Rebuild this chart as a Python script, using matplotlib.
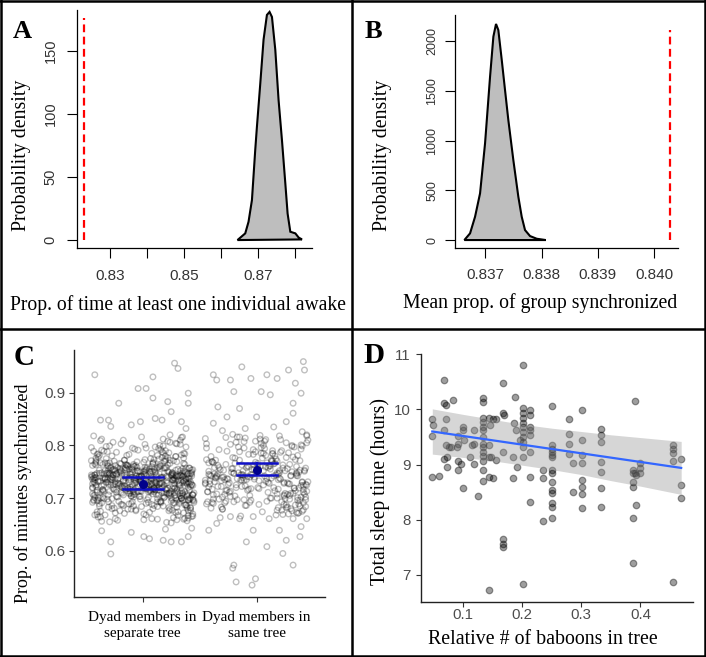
import matplotlib
matplotlib.use('Agg')
import matplotlib.pyplot as plt
from matplotlib.lines import Line2D

SERIF = 'Liberation Serif'
SANS = 'Liberation Sans'

# ---------------------------------------------------------------
# DATA
# ---------------------------------------------------------------

# A: posterior density, prop. of time at least one individual awake
dens_a_x = [0.86447, 0.86656, 0.86745, 0.86837, 0.86926, 0.86972, 0.87062, 0.87151,
            0.87242, 0.87313, 0.87378, 0.87468, 0.87557, 0.87649, 0.87739, 0.87801,
            0.87874, 0.88010, 0.88099, 0.88190]
dens_a_y = [0, 5.3, 14.5, 31.7, 71.4, 90, 124, 159, 178.6, 181, 177, 151, 111, 79,
            45, 21, 6.6, 5.3, 2, 0.5]
obs_a = 0.8230
obs_a_top = 176
xticks_a = [0.83, 0.84, 0.85, 0.86, 0.87, 0.88]
xlabels_a = ['0.83', '', '0.85', '', '0.87', '']
yticks_a = [0, 50, 100, 150]

# B: posterior density, mean prop. of group synchronized
dens_b_x = [0.836627, 0.836728, 0.836817, 0.836906, 0.836995, 0.837084, 0.837143,
            0.837190, 0.837231, 0.837292, 0.837350, 0.837409, 0.837498, 0.837587,
            0.837647, 0.837706, 0.837795, 0.837914, 0.838074]
dens_b_y = [0, 67, 234, 469, 972, 1642, 2044, 2171, 2110, 1809, 1508, 1206, 804, 435,
            234, 100, 40, 13, 0]
obs_b = 0.84028
obs_b_top = 2110
xticks_b = [0.837, 0.838, 0.839, 0.840]
yticks_b = [0, 500, 1000, 1500, 2000]

# C: dyad synchrony, jitter offsets (hundredths of a category) and values (thousandths)
sep_dx = [-12, 33, -41, 7, 25, -30, 41, -3, 18, -22, 38, -37, 11, -8, 29, -44, 3, 21, -17, 44,
          -26, 14, 36, -6, -39, 23, 0, -33, 9, 31, -15, 40, -28, 17, -1, 35, -42, 6, 27, -19,
          42, -10, 20, -35, 4, 30, -24, 12, -43, 37, -5, 16, -31, 26, -14, 39, -20, 1, 34, -38,
          8, -27, 43, -16, 24, -2, 32, -40, 15, -9, 28, -34, 5, 45, -21, 10, -29, 19, -45, 36,
          -7, 22, -36, 40, -13, 2, 27, -25, 38, -4, 13, -41, 31, -18, 6, 44, -32, 17, -11, 25,
          34, -23, 9, -44, 29, -15, 21, -37, 3, 41, -8, 26, -30, 14, -2, 37, -26, 11, -40, 19,
          -33, 4, 30, -19, 43, -6, 16, -28, 24, -42, 35, -12, 7, -35, 22, -1, 39, -24, 12, -16,
          28, -39, 15, -3, 33, -29, 6, 42, -20, 18, -10, 38, -43, 1, 26, -34, 10, -7, 44, -22,
          -18, 37, -9, 23, -36, 12, 40, -14, 3, -45, 29, -27, 17, 8, -38, 34, -4, 21, -31, 2,
          16, -42, 27, -11, 39, -25, 5, 31, -35, 20, -1, -19, 43, -30, 11, -8, 36, -44, 24, -13,
          -37, 19, -5, 41, -23, 32, -16, 8, 25, -40, 14, -9, 35, -28, 3, 44, -21, 13, -34, 30,
          10, -31, 38, -17, 1, 28, -43, 22, -6, 33, -26, 15, -39, 40, -12, 7, -24, 36, -3, -41,
          21, -36, 4, 39, -14, 27, -43, 10, -25, 33, -2, 44, -18, 6, -31, 24, -9, 41, -38, 15,
          -4, 30, -22, 13, -41, 37, 1, -29, 19, -12, 42, -35, 8, 26, -20, 35, -45, 11, -7, 31,
          40, -17, 25, -33, 9, -6, 34, -27, 2, 43, -39, 17, -11, 29, -23, 5, 38, -30, 20, -1,
          -28, 12, 45, -9, 22, -40, 7, 31, -15, 36, -3, -24, 18, -42, 28, -13, 3, 40, -34, 24,
          14, -44, 32, -5, 38, -19, 11, -32, 26, -10, 20, 42, -37, 1, 33, -21, 16, -8, 37, -27,
          -11, 23, -39, 35, -1, 17, -26, 44, -16, 8, -33, 29, 4, -43, 12, 39, -6, -30, 21, 43,
          32, -8, 18, -42, 27, -20, 1, 37, -12, 24, -29, 6, 41, -36, 15, -3, 30, -17, 9, -40,
          -35, 42, -14, 10, -24, 33, -7, 21, 44, -31, 3, -18, 26, -2, 36, -41, 13, -27, 38, 5,
          7, -25, 37, -38, 19, -9, 29, -44, 12, 2, -21, 40, -13, 34, -34, 23, -4, 31, -19, 16,
          -20, 35, -3, 26, -32, 14, 43, -11, -39, 20, 9, -26, 39, -15, 4, 30, -43, 18, -8, 27,
          44, -13, 22, -27, 6, -37, 34, -1, 28, -22, 15, -44, 11, 36, -10, -30, 25, 2, -41, 19,
          -6, 28, -41, 16, 41, -23, 8, -34, 33, -16, -42, 23, 1, -28, 40, -12, 17, -37, 29, 10,
          25, -30, 11, -45, 34, 3, -18, 27, -7, 39, -35, 14, -24, 42, -2, 21, -39, 7, 33, -15,
          -42, 16, -10, 30, -26, 38, -5, 13, -33, 24, 45, -19, 5, -37, 19, -8, 35, -23, 1, 41,
          3, -22, 41, -31, 10, -14, 26, -40, 36, -4, 17, -29, 32, -9, -44, 28, -17, 12, -36, 22,
          -15, 37, -33, 8, 29, -43, 20, -6, 14, 43, -27, 4, -20, 35, -11, 26, -40, 9, -1, -32,
          36, -2, 15, -28, 42, -12, 5, -36, 23, -19, 32, -42, 10, -24, 39, -6, 20, -31, 44, -9,
          -23, 9, -44, 27, -16, 33, -38, 18, -1, 30, -29, 13, -42, 25, -7, 40, -13, 3, -26, 35,
          -42, -4, 3, 9, 28, 31, 40, 40, -21, 9, 22, 25, 34, -37, -30, -2, 11, 17, -10, -28, 38,
          -28, -28, 6, 18, 25, 34, 40, 1, -36, 20, -10, 43]
sep_y = [731, 694, 768, 712, 745, 683, 757, 721, 799, 702, 736, 664, 748, 715, 779, 727, 690, 741, 810, 706,
         725, 759, 672, 738, 701, 786, 719, 752, 680, 733, 764, 697, 743, 710, 816, 729, 668, 755, 722, 688,
         747, 704, 771, 716, 739, 659, 762, 728, 695, 750, 713, 792, 735, 677, 744, 708, 766, 723, 700, 781,
         737, 686, 753, 718, 806, 698, 742, 674, 760, 726, 711, 789, 733, 692, 749, 719, 655, 770, 740, 705,
         728, 763, 691, 746, 714, 802, 734, 681, 757, 722, 699, 776, 741, 709, 751, 666, 730, 788, 717, 694,
         744, 703, 765, 720, 673, 739, 758, 712, 795, 727, 685, 748, 706, 774, 732, 662, 754, 715, 783, 724,
         736, 697, 769, 711, 742, 678, 761, 725, 820, 701, 747, 689, 738, 716, 777, 729, 657, 752, 707, 743,
         719, 784, 693, 735, 710, 767, 726, 682, 756, 740, 704, 797, 731, 670, 745, 713, 773, 734, 696, 758,
         723, 687, 749, 709, 812, 737, 676, 762, 718, 744, 700, 780, 728, 661, 753, 714, 791, 733, 698, 746,
         739, 706, 771, 721, 684, 755, 730, 667, 764, 717, 742, 803, 726, 693, 750, 711, 785, 736, 679, 760,
         732, 701, 758, 715, 744, 690, 772, 727, 653, 747, 720, 795, 708, 737, 668, 754, 724, 781, 699, 741,
         712, 766, 687, 734, 750, 705, 818, 729, 676, 743, 718, 763, 696, 738, 709, 775, 731, 660, 752, 722,
         709, 748, 726, 681, 763, 739, 697, 754, 716, 802, 733, 670, 745, 721, 788, 705, 758, 742, 689, 727,
         751, 714, 736, 693, 771, 724, 659, 747, 710, 783, 730, 701, 760, 718, 676, 741, 796, 729, 707, 755,
         720, 686, 743, 767, 708, 734, 815, 699, 752, 725, 664, 738, 713, 779, 746, 692, 731, 761, 717, 684,
         757, 723, 695, 740, 808, 711, 749, 674, 733, 766, 703, 727, 786, 744, 690, 719, 753, 662, 737, 772,
         706, 742, 729, 769, 687, 752, 716, 798, 735, 679, 758, 722, 700, 745, 810, 728, 693, 764, 712, 740,
         746, 682, 731, 756, 713, 777, 738, 698, 723, 751, 668, 743, 717, 789, 730, 705, 762, 726, 654, 749,
         727, 761, 704, 739, 691, 750, 719, 784, 735, 710, 746, 673, 757, 724, 800, 741, 696, 732, 768, 715,
         738, 699, 755, 720, 672, 744, 793, 729, 706, 762, 733, 688, 748, 714, 776, 725, 660, 752, 737, 701,
         715, 770, 734, 685, 747, 722, 804, 708, 741, 759, 694, 730, 718, 782, 745, 676, 736, 711, 765, 728,
         753, 710, 740, 697, 775, 726, 665, 749, 733, 790, 716, 744, 703, 758, 721, 683, 738, 812, 707, 746,
         724, 679, 751, 735, 714, 767, 700, 742, 728, 658, 756, 719, 797, 732, 690, 748, 713, 773, 739, 702,
         742, 718, 763, 694, 737, 711, 785, 725, 752, 671, 744, 707, 768, 730, 696, 755, 721, 809, 734, 686,
         708, 754, 731, 771, 699, 743, 720, 663, 760, 727, 713, 794, 738, 681, 749, 716, 778, 733, 704, 757,
         735, 691, 745, 717, 806, 729, 752, 684, 739, 766, 710, 748, 723, 675, 757, 702, 741, 787, 726, 697,
         756, 728, 700, 747, 718, 781, 734, 669, 751, 712, 740, 799, 725, 693, 762, 737, 706, 744, 656, 719,
         721, 764, 737, 688, 753, 705, 774, 731, 715, 746, 680, 758, 727, 816, 709, 742, 695, 766, 733, 748,
         743, 703, 728, 759, 677, 738, 712, 791, 749, 722, 698, 765, 734, 661, 745, 719, 780, 730, 707, 754,
         716, 750, 692, 735, 772, 724, 747, 685, 741, 803, 713, 757, 729, 701, 738, 667, 762, 720, 744, 696,
         934, 908, 908, 930, 956, 946, 899, 880, 880, 890, 883, 864, 845, 848, 848, 845, 851, 848, 839, 836, 832,
         617, 594, 623, 620, 617, 617, 627, 627, 638, 641, 635, 643]
same_dx = [25, -33, 8, 41, -18, 36, -5, -41, 14, 30, -27, 2, 44, -12, 19, -36, 38, -22, 11, -44,
           -8, 27, -39, 16, 33, -2, 43, -25, 6, -14, 35, -31, 21, -43, 12, 40, -19, 29, -35, 3,
           37, -15, 22, -42, 9, 31, -28, 1, 44, -10, 18, -37, 26, -4, 39, -23, 13, -45, 32, -7,
           -20, 42, -11, 28, 5, -34, 20, -1, 36, -29, 15, -40, 34, 7, -17, 24, -38, 45, -6, 17,
           10, -26, 39, -9, 30, -45, 4, 23, -32, 41, -3, 19, -38, 13, 35, -21, 27, -13, 43, -30,
           -31, 14, 39, -7, 26, -42, 3, 33, -19, 9, -36, 22, 44, -12, 31, -25, 6, -40, 18, -3,
           12, -38, 24, -16, 41, -2, 30, -29, 7, 36, -22, -44, 17, -9, 28, -34, 1, 43, -14, 20,
           -24, 35, -11, 43, -33, 18, -6, 26, -41, 11, 38, -18, 4, -30, 22, -1, 40, -27, 13, -37,
           29, -5, -35, 16, 2, 37, -21, 10, -44, 32, -13, 24, -39, 6, 45, -17, 19, -8, 34, -26,
           -10, 21, 42, -28, 13, -3, 34, -41, 25, -15, 8, -33, 38, -20, 1, 31, -43, 16, -6, 40,
           37, -19, 5, 27, -39, 11, -26, 44, -8, 20, -30, 35, -1, -42, 15, 29, -14, 8, -35, 23,
           -2, 32, -44, 19, -13, 40, -23, 3, 28, -36, 14, -7, 42, -27, 24, -11, 36, -40, 9, -18,
           18, -27, 30, -10, 43, -37, 7, 24, -16, 39, -32, 1, 21, -45, 12, -4, 33, -21, 41, -12,
           -39, 6, -17, 36, -28, 25, -42, 15, 41, -9, 29, -23, 10, -34, 37, -15, 2, 27, -30, 44,
           8, -45, 26, -20, 17, -5, 38, -31, 31, -13, 4, -38, 23, -2, 35, -24, 14, -43, 20, -11,
           -38, -35, -23, -20, -13, -5, 4, 9, 18, 28, 34, 41, 42, 39, 32, 32, 26, 12, 0, -15,
           -26, -38, -34, -30, 15, 40, -10,
           -42, -35, -23, -15, -9, -3, -20, -21, -18, -4, -1, 9, 23, 32, 20, 26, 38, 39, 44, 18]
same_y = [752, 698, 781, 724, 806, 671, 745, 733, 790, 709, 764, 688, 818, 739, 717, 772, 696, 756, 728, 803,
          741, 683, 769, 714, 797, 755, 702, 736, 785, 666, 748, 722, 811, 693, 761, 730, 776, 705, 743, 819,
          719, 788, 677, 751, 737, 800, 691, 766, 725, 814, 700, 758, 682, 744, 793, 713, 770, 734, 661, 783,
          747, 708, 795, 727, 674, 762, 738, 808, 696, 753, 720, 779, 687, 742, 816, 704, 767, 731, 692, 774,
          758, 715, 801, 686, 743, 729, 785, 669, 754, 711, 792, 735, 698, 772, 746, 821, 707, 763, 726, 679,
          733, 771, 702, 759, 687, 745, 812, 719, 766, 694, 738, 790, 713, 751, 676, 726, 800, 742, 708, 783,
          755, 690, 728, 797, 716, 763, 680, 740, 808, 701, 749, 773, 668, 735, 786, 722, 757, 697, 744, 818,
          711, 760, 734, 684, 792, 748, 705, 777, 727, 661, 753, 720, 804, 739, 693, 768, 731, 815, 700, 746,
          764, 696, 741, 780, 718, 672, 756, 730, 795, 709, 745, 688, 769, 725, 810, 737, 682, 761, 714, 789,
          723, 787, 751, 707, 738, 665, 773, 744, 699, 816, 732, 758, 685, 747, 720, 798, 712, 766, 740, 675,
          749, 704, 776, 729, 692, 761, 737, 805, 715, 752, 679, 743, 788, 721, 765, 698, 734, 811, 708, 757,
          736, 778, 689, 746, 722, 799, 703, 760, 670, 739, 784, 717, 753, 694, 730, 807, 742, 681, 767, 725,
          770, 714, 742, 686, 757, 731, 794, 706, 748, 724, 663, 762, 736, 813, 700, 754, 719, 777, 691, 744,
          717, 752, 697, 781, 735, 709, 767, 742, 678, 758, 727, 802, 711, 746, 689, 772, 733, 756, 702, 820,
          759, 727, 805, 693, 744, 718, 771, 683, 750, 734, 796, 706, 763, 740, 673, 729, 785, 712, 748, 697,
          934, 924, 924, 902, 949, 927, 902, 934, 927, 943, 918, 959, 943, 899, 880, 861, 845, 896, 854, 870,
          854, 842, 873, 828, 835, 826, 832,
          639, 652, 665, 661, 617, 639, 573, 567, 541, 535, 547, 608, 595, 573, 639, 620, 627, 646, 661, 677]
c_groups = ['Dyad members in\nseparate tree', 'Dyad members in\nsame tree']
c_mean = [0.7266, 0.7532]
c_lo = [0.7165, 0.7437]
c_hi = [0.7405, 0.7670]
yticks_c = [0.6, 0.7, 0.8, 0.9]

# D: total sleep time vs relative number of baboons in tree
d_x = [0.048, 0.050, 0.048, 0.048, 0.059, 0.067, 0.067, 0.072, 0.072, 0.068, 0.072, 0.077,
       0.067, 0.073, 0.073, 0.083, 0.080, 0.092, 0.092, 0.090, 0.092, 0.092, 0.096,
       0.100, 0.100, 0.101, 0.100, 0.111, 0.116, 0.118, 0.118, 0.118, 0.125,
       0.133, 0.133, 0.133, 0.133, 0.133, 0.133, 0.133, 0.133, 0.133, 0.133, 0.133, 0.133,
       0.133, 0.133, 0.144, 0.145, 0.144, 0.144, 0.144, 0.144, 0.151, 0.148, 0.151,
       0.156, 0.156, 0.168, 0.169, 0.168, 0.168, 0.168, 0.168, 0.168, 0.184, 0.184,
       0.188, 0.186, 0.189, 0.192, 0.202, 0.202, 0.202, 0.202, 0.202, 0.202, 0.202, 0.202,
       0.202, 0.202, 0.202, 0.202, 0.196, 0.214, 0.214, 0.214, 0.214, 0.214, 0.214, 0.214,
       0.214, 0.235, 0.235, 0.235, 0.251, 0.251, 0.251, 0.251, 0.251, 0.251, 0.251, 0.251,
       0.251, 0.251, 0.251, 0.251, 0.251, 0.251, 0.279, 0.279, 0.279, 0.279, 0.286, 0.286,
       0.301, 0.301, 0.301, 0.301, 0.301, 0.301, 0.301, 0.301, 0.333, 0.333, 0.333, 0.333,
       0.333, 0.333, 0.333, 0.387, 0.387, 0.387, 0.387, 0.387, 0.387, 0.391, 0.391, 0.392,
       0.393, 0.400, 0.400, 0.400, 0.455, 0.455, 0.455, 0.455, 0.455, 0.469, 0.469, 0.469]
d_y = [9.82, 9.72, 9.52, 8.78, 8.79, 10.54, 10.11, 10.08, 9.82, 9.62, 9.35, 9.32,
       9.11, 9.14, 8.96, 10.17, 9.32, 9.52, 9.38, 9.32, 9.07, 8.90, 9.01,
       9.69, 9.62, 9.44, 8.57, 9.14, 9.35, 9.62, 9.38, 9.01, 8.43,
       10.20, 10.14, 9.85, 9.78, 9.69, 9.62, 9.50, 9.38, 9.32, 9.23, 9.15, 9.07,
       8.91, 8.71, 9.84, 9.72, 9.35, 9.14, 8.78, 6.73, 9.82, 9.14, 8.75,
       9.82, 9.08, 9.93, 9.90, 10.48, 7.66, 7.57, 7.51, 9.23, 9.14, 8.75,
       10.23, 9.75, 9.62, 8.96, 10.80, 10.02, 9.94, 9.85, 9.75, 9.69, 9.59, 9.50,
       9.41, 9.31, 9.14, 6.84, 9.44, 9.99, 9.90, 9.69, 9.62, 9.53, 9.23, 8.78,
       8.33, 8.90, 8.75, 7.98, 10.06, 9.35, 9.29, 9.23, 9.17, 9.14, 8.90, 8.84,
       8.69, 8.54, 8.48, 8.30, 8.24, 8.03, 9.82, 9.56, 9.38, 9.20, 9.03, 8.51,
       9.99, 9.44, 9.17, 9.03, 8.73, 8.60, 8.46, 8.21, 9.64, 9.53, 9.41, 9.05,
       8.87, 8.57, 8.24, 8.91, 8.85, 8.69, 8.60, 8.04, 7.22, 10.15, 8.85, 8.27,
       8.81, 9.03, 8.94, 8.84, 9.35, 9.29, 9.21, 9.06, 6.87, 9.11, 8.63, 8.39]
fit_x = [0.048, 0.469]
fit_y = [9.60, 8.94]
band_x = [0.048, 0.1, 0.15, 0.2, 0.25, 0.3, 0.35, 0.4, 0.469]
band_lo = [9.19, 9.13, 9.07, 8.99, 8.91, 8.82, 8.71, 8.61, 8.46]
band_hi = [10.01, 9.91, 9.82, 9.73, 9.66, 9.60, 9.54, 9.49, 9.42]
xticks_d = [0.1, 0.2, 0.3, 0.4]
yticks_d = [7, 8, 9, 10, 11]

# ---------------------------------------------------------------
# FIGURE
# ---------------------------------------------------------------
W, H = 706, 657
fig = plt.figure(figsize=(W / 100, H / 100), dpi=100)


def box(l, t, r, b):
    return [l / W, 1 - b / H, (r - l) / W, (b - t) / H]


def ftext(x, y, s, **kw):
    fig.text(x / W, 1 - y / H, s, **kw)


def lshape(ax, color='k', lw=0.9):
    for side in ['top', 'right']:
        ax.spines[side].set_visible(False)
    for side in ['left', 'bottom']:
        ax.spines[side].set_color(color)
        ax.spines[side].set_linewidth(lw)


base_tick = '#333333'
gg_tick = '#4d4d4d'

# ---- A
axA = fig.add_axes(box(77, 10, 312, 248))
axA.fill(dens_a_x, dens_a_y, facecolor='#bebebe', edgecolor='k', lw=1.5)
axA.plot([obs_a, obs_a], [0, obs_a_top], color='red', lw=1.6, ls=(0, (3.5, 2)))
axA.set_xlim(0.8211, 0.8846)
axA.set_ylim(-6.3, 182.5)
lshape(axA)
axA.set_xticks(xticks_a)
axA.set_xticklabels(xlabels_a, family=SANS, fontsize=11)
axA.set_yticks(yticks_a)
axA.set_yticklabels([str(v) for v in yticks_a], rotation=90, va='center', family=SANS, fontsize=10.5)
axA.tick_params(axis='both', length=7, width=0.8, labelcolor=base_tick)
axA.tick_params(axis='x', pad=8)
axA.tick_params(axis='y', pad=7)

# ---- B
axB = fig.add_axes(box(454.7, 15, 678, 248.3))
axB.fill(dens_b_x, dens_b_y, facecolor='#bebebe', edgecolor='k', lw=1.5)
axB.plot([obs_b, obs_b], [0, obs_b_top], color='red', lw=1.6, ls=(0, (3.5, 2)))
axB.set_xlim(0.836455, 0.840427)
axB.set_ylim(-83, 2261)
lshape(axB)
axB.set_xticks(xticks_b)
axB.set_xticklabels(['%.3f' % v for v in xticks_b], family=SANS, fontsize=11)
axB.set_yticks(yticks_b)
axB.set_yticklabels([str(v) for v in yticks_b], rotation=90, va='center', family=SANS, fontsize=9)
axB.tick_params(axis='both', length=7, width=0.8, labelcolor=base_tick)
axB.tick_params(axis='x', pad=7)
axB.tick_params(axis='y', pad=5)

# ---- C
axC = fig.add_axes(box(74.3, 350, 325, 596.7))
axC.scatter([1 + d / 100 for d in sep_dx], [v / 1000 for v in sep_y], s=16,
            facecolors='none', edgecolors='k', linewidths=1.0, alpha=0.25)
axC.scatter([2 + d / 100 for d in same_dx], [v / 1000 for v in same_y], s=16,
            facecolors='none', edgecolors='k', linewidths=1.0, alpha=0.25)
for i in range(2):
    xc = i + 1
    axC.plot([xc, xc], [c_lo[i], c_hi[i]], color='#1010c8', lw=1.6, zorder=4)
    axC.plot([xc - 0.175, xc + 0.175], [c_lo[i], c_lo[i]], color='#1010c8', lw=1.8, zorder=4)
    axC.plot([xc - 0.175, xc + 0.175], [c_hi[i], c_hi[i]], color='#1010c8', lw=1.8, zorder=4)
axC.scatter([1, 2], c_mean, s=30, color='#00008b', zorder=5)
axC.set_xlim(0.4, 2.6)
axC.set_ylim(0.513, 0.981)
lshape(axC, color='#222222', lw=1.0)
axC.set_xticks([1, 2])
axC.set_xticklabels(c_groups, family=SERIF, fontsize=11, color='k', linespacing=1.3)
axC.set_yticks(yticks_c)
axC.set_yticklabels(['%.1f' % v for v in yticks_c], family=SANS, fontsize=11)
axC.tick_params(axis='both', length=3.5, width=0.8, color='#333333', labelcolor=gg_tick)
axC.tick_params(axis='x', pad=6.5)
axC.tick_params(axis='y', pad=3)
for t in axC.get_xticklabels():
    t.set_color('k')

# ---- D
axD = fig.add_axes(box(420.7, 354, 693, 601.7))
axD.scatter(d_x, d_y, s=22, color='k', edgecolors='k', linewidths=0.9, alpha=0.38, zorder=2)
axD.fill_between(band_x, band_lo, band_hi, color='#999999', alpha=0.4, lw=0, zorder=3)
axD.plot(fit_x, fit_y, color='#3366ff', lw=1.6, zorder=4)
axD.set_xlim(0.0284, 0.489)
axD.set_ylim(6.516, 11.004)
lshape(axD, color='#222222', lw=1.0)
axD.set_xticks(xticks_d)
axD.set_xticklabels(['%.1f' % v for v in xticks_d], family=SANS, fontsize=10.8)
axD.set_yticks(yticks_d)
axD.set_yticklabels([str(v) for v in yticks_d], family=SANS, fontsize=10.8)
axD.tick_params(axis='both', length=3.5, width=0.8, color='#333333', labelcolor=gg_tick)
axD.tick_params(axis='x', pad=0.8)
axD.tick_params(axis='y', pad=4)

# ---- axis titles (serif)
ftext(21.7, 155, 'Probability density', rotation=90, ha='center', va='center', family=SERIF, fontsize=14.3)
ftext(178, 305, 'Prop. of time at least one individual awake', ha='center', va='center', family=SERIF, fontsize=14.1)
ftext(383, 155, 'Probability density', rotation=90, ha='center', va='center', family=SERIF, fontsize=14.3)
ftext(540.5, 303, 'Mean prop. of group synchronized', ha='center', va='center', family=SERIF, fontsize=14.2)
ftext(23.5, 493, 'Prop. of minutes synchronized', rotation=90, ha='center', va='center', family=SERIF, fontsize=13)
ftext(379.7, 491.7, 'Total sleep time (hours)', rotation=90, ha='center', va='center', family=SERIF, fontsize=14.1)
ftext(543, 640, 'Relative # of baboons in tree', ha='center', va='center', family=SERIF, fontsize=14.3)

# ---- panel letters
ftext(13, 38, 'A', ha='left', va='baseline', family=SERIF, fontsize=19, weight='bold')
ftext(365, 38, 'B', ha='left', va='baseline', family=SERIF, fontsize=19, weight='bold')
ftext(14, 365, 'C', ha='left', va='baseline', family=SERIF, fontsize=21, weight='bold')
ftext(363, 363, 'D', ha='left', va='baseline', family=SERIF, fontsize=21, weight='bold')

# ---- panel frame
frame = [((1, 1), (0, 656)), ((705, 705), (0, 656)), ((0, 706), (1, 1)), ((0, 706), (656, 656)),
         ((352, 352), (0, 657)), ((0, 706), (328.5, 328.5))]
for xs, ys in frame:
    fig.add_artist(Line2D([x / W for x in xs], [1 - y / H for y in ys], color='k', lw=1.8,
                          transform=fig.transFigure))

fig.savefig('out.png', dpi=100)
